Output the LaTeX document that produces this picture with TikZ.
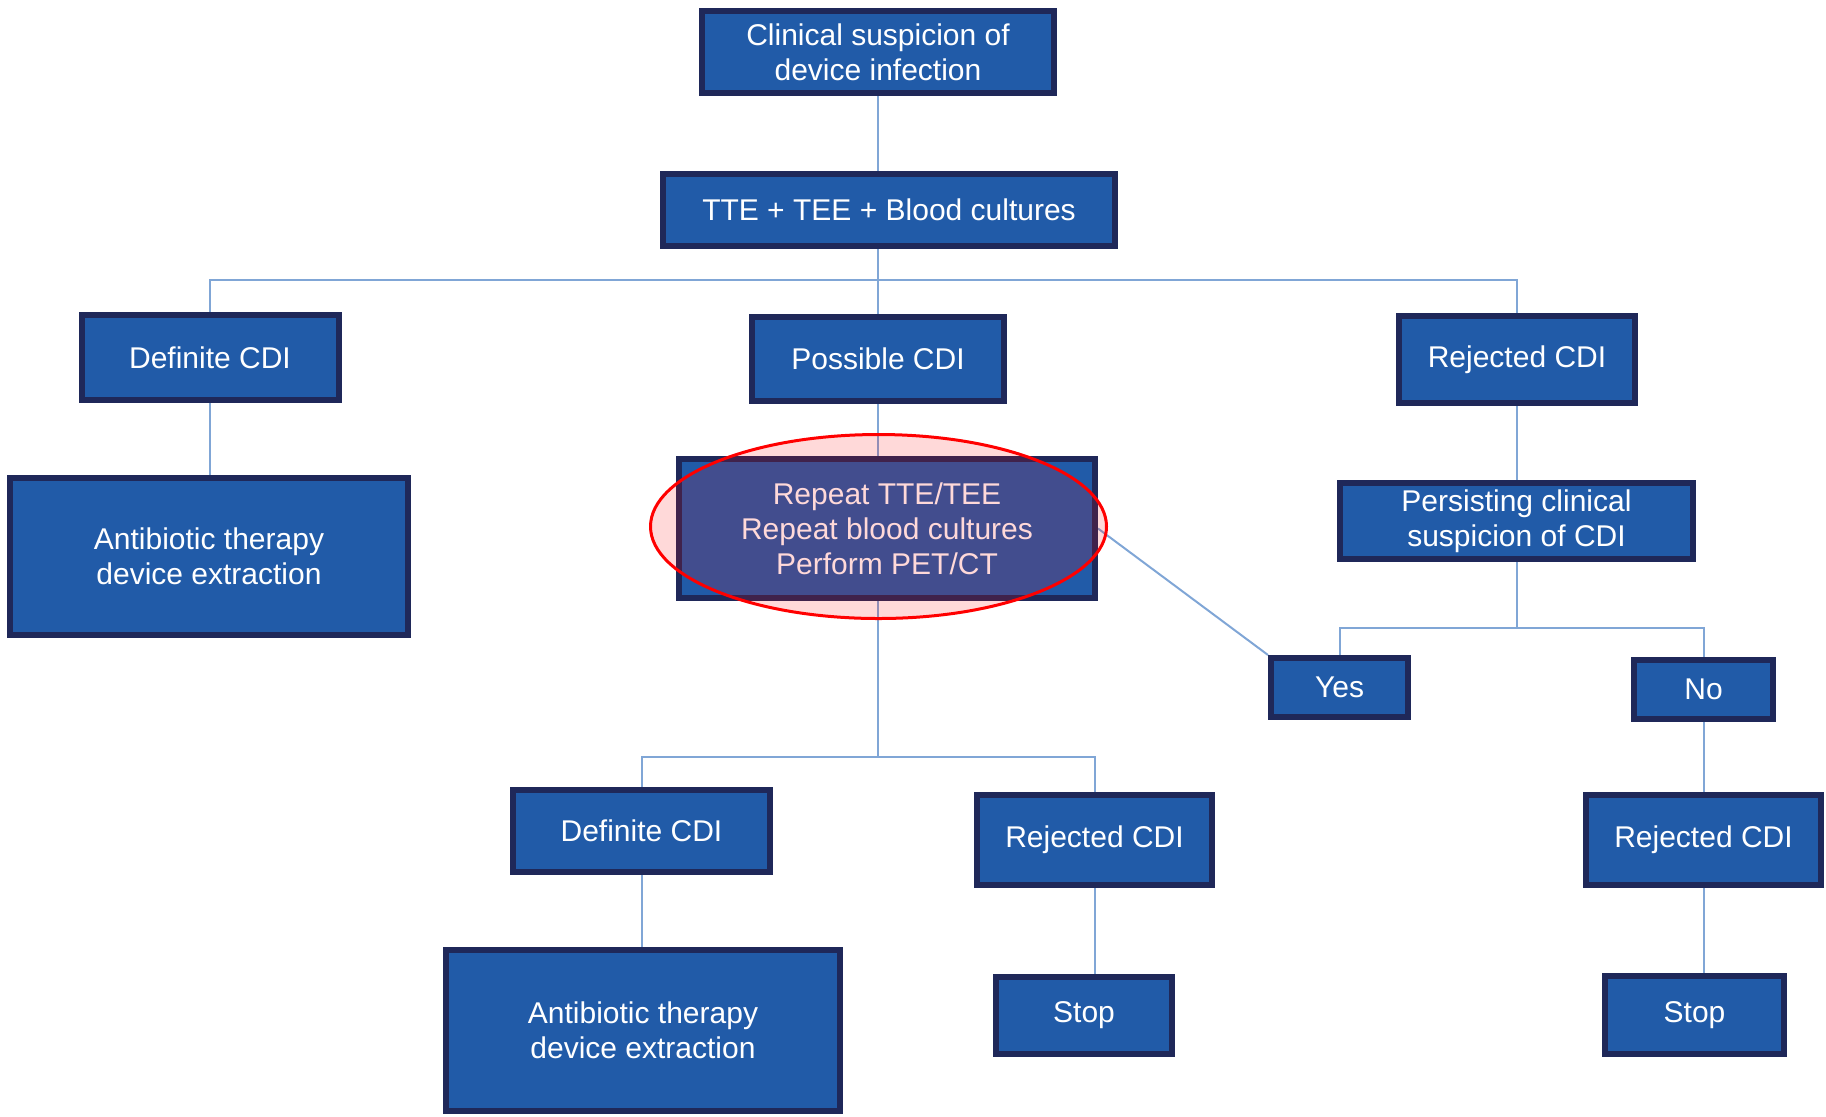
\documentclass[tikz,border=0pt]{standalone}
\usepackage{fontspec}
\setmainfont{Liberation Sans}
\usetikzlibrary{backgrounds}
\definecolor{boxfill}{RGB}{33,91,168}
\definecolor{boxedge}{RGB}{31,40,89}
\definecolor{conn}{RGB}{128,166,214}
\tikzset{
  bx/.style 2 args={draw=boxedge, fill=boxfill, line width=3pt, inner sep=0pt,
    minimum width=#1*0.5pt-3pt, minimum height=#2*0.5pt-3pt,
    text=white, align=center, font=\fontsize{15pt}{17.5pt}\selectfont},
  link/.style={draw=conn, line width=1pt}
}
\begin{document}
\begin{tikzpicture}[x=0.5pt, y=-0.5pt]
\useasboundingbox (0,0) rectangle (1826,1116);
\node[bx={358}{88}]  (top)   at (878,52)     {Clinical suspicion of\\device infection};
\node[bx={458}{78}]  (tte)   at (889,210)    {TTE + TEE + Blood cultures};
\node[bx={263}{91}]  (def1)  at (210,357.5)  {Definite CDI};
\node[bx={258}{90}]  (pos)   at (878,359)    {Possible CDI};
\node[bx={242}{93}]  (rej1)  at (1517,359.5) {Rejected CDI};
\node[bx={404}{163}] (anti1) at (209,556.5)  {Antibiotic therapy\\device extraction};
\node[bx={422}{145}] (rep)   at (887,528.5)  {Repeat TTE/TEE\\Repeat blood cultures\\Perform PET/CT};
\node[bx={359}{82}]  (pers)  at (1516.5,521) {Persisting clinical\\suspicion of CDI};
\node[bx={143}{65}]  (yes)   at (1339.5,687.5){Yes};
\node[bx={145}{65}]  (no)    at (1703.5,689.5){No};
\node[bx={263}{88}]  (def2)  at (641.5,831)  {Definite CDI};
\node[bx={241}{96}]  (rej2)  at (1094.5,840) {Rejected CDI};
\node[bx={241}{96}]  (rej3)  at (1703.5,840) {Rejected CDI};
\node[bx={400}{167}] (anti2) at (643,1030.5) {Antibiotic therapy\\device extraction};
\node[bx={182}{83}]  (stop2) at (1084,1015.5){Stop};
\node[bx={185}{84}]  (stop3) at (1694.5,1015){Stop};
\coordinate (j1) at (878,280);
\coordinate (j2) at (878,757);
\coordinate (j3) at (1517,628);
\begin{scope}[on background layer]
  \draw[link] (top.south) -- (pos.north);
  \draw[link] (def1.north) |- (j1) -| (rej1.north);
  \draw[link] (def1.south) -- (def1.south |- anti1.north);
  \draw[link] (pos.south) -- (j2);
  \draw[link] (def2.north) |- (j2) -| (rej2.north);
  \draw[link] (def2.south) -- (def2.south |- anti2.north);
  \draw[link] (rej2.south) -- (rej2.south |- stop2.north);
  \draw[link] (rej1.south) -- (rej1.south |- pers.north);
  \draw[link] (j3 |- pers.south) -- (j3);
  \draw[link] (yes.north) |- (j3) -| (no.north);
  \draw[link] (no.south) -- (rej3.north);
  \draw[link] (rej3.south) -- (rej3.south |- stop3.north);
  \draw[link] (rep.east) -- (yes.north west);
\end{scope}
\draw[red, line width=1.5pt, fill=red, fill opacity=0.15] (878.5,526.5) ellipse [x radius=114pt, y radius=46pt];
\end{tikzpicture}
\end{document}
